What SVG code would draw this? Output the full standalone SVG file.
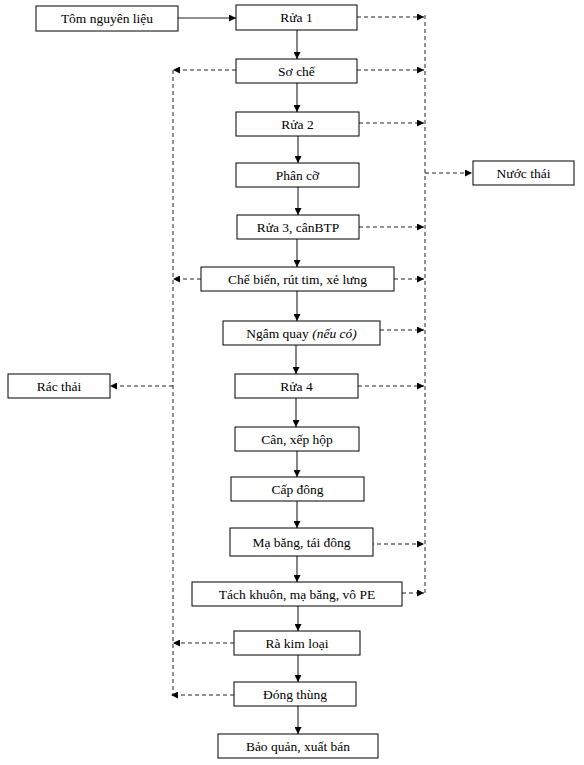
<svg xmlns="http://www.w3.org/2000/svg" width="584" height="765" viewBox="0 0 584 765">
<style>
  .box{fill:#fff;stroke:#000;stroke-width:1}
  .t{font-family:"Liberation Serif","Times New Roman",serif;font-size:13.5px;fill:#000;text-anchor:middle;dominant-baseline:central}
  .s{stroke:#222;stroke-width:1.1;fill:none}
  .d{stroke:#222;stroke-width:1;fill:none;stroke-dasharray:4 3}
</style>
<defs>
  <marker id="ah" viewBox="0 0 8 8" refX="8" refY="4" markerWidth="7" markerHeight="7" markerUnits="userSpaceOnUse" orient="auto">
    <path d="M0,0 L8,4 L0,8 z" fill="#000"/>
  </marker>
</defs>
<rect width="584" height="765" fill="#fff"/>
<g id="connectors">
  <line class="s" x1="178" y1="18" x2="236" y2="18" marker-end="url(#ah)"/>
  <line class="s" x1="297" y1="30" x2="297" y2="59" marker-end="url(#ah)"/>
  <line class="s" x1="297" y1="83" x2="297" y2="112" marker-end="url(#ah)"/>
  <line class="s" x1="298" y1="136" x2="298" y2="163" marker-end="url(#ah)"/>
  <line class="s" x1="298" y1="187" x2="298" y2="215" marker-end="url(#ah)"/>
  <line class="s" x1="297" y1="239" x2="297" y2="267" marker-end="url(#ah)"/>
  <line class="s" x1="297" y1="291" x2="297" y2="321" marker-end="url(#ah)"/>
  <line class="s" x1="296" y1="345" x2="296" y2="374" marker-end="url(#ah)"/>
  <line class="s" x1="296" y1="398" x2="296" y2="427" marker-end="url(#ah)"/>
  <line class="s" x1="297" y1="451" x2="297" y2="477" marker-end="url(#ah)"/>
  <line class="s" x1="297" y1="501" x2="297" y2="528" marker-end="url(#ah)"/>
  <line class="s" x1="297" y1="556" x2="297" y2="582" marker-end="url(#ah)"/>
  <line class="s" x1="298" y1="606" x2="298" y2="631" marker-end="url(#ah)"/>
  <line class="s" x1="298" y1="655" x2="298" y2="682" marker-end="url(#ah)"/>
  <line class="s" x1="298" y1="706" x2="298" y2="734" marker-end="url(#ah)"/>

  <line class="d" x1="357" y1="17" x2="424" y2="17" marker-end="url(#ah)"/>
  <line class="d" x1="357" y1="70" x2="424" y2="70" marker-end="url(#ah)"/>
  <line class="d" x1="359" y1="123" x2="424" y2="123" marker-end="url(#ah)"/>
  <line class="d" x1="359" y1="227" x2="424" y2="227" marker-end="url(#ah)"/>
  <line class="d" x1="394" y1="279" x2="424" y2="279" marker-end="url(#ah)"/>
  <line class="d" x1="380" y1="330" x2="424" y2="330" marker-end="url(#ah)"/>
  <line class="d" x1="358" y1="386" x2="424" y2="386" marker-end="url(#ah)"/>
  <line class="d" x1="363" y1="544" x2="424" y2="544" marker-end="url(#ah)"/>
  <line class="d" x1="402" y1="593" x2="424" y2="593" marker-end="url(#ah)"/>
  <line class="d" x1="425" y1="15" x2="425" y2="593"/>
  <line class="d" x1="425" y1="173" x2="472" y2="173" marker-end="url(#ah)"/>

  <line class="d" x1="236" y1="70" x2="173" y2="70" marker-end="url(#ah)"/>
  <line class="d" x1="201" y1="279" x2="173" y2="279" marker-end="url(#ah)"/>
  <line class="d" x1="234" y1="643" x2="173" y2="643" marker-end="url(#ah)"/>
  <line class="d" x1="234" y1="695" x2="171" y2="695" marker-end="url(#ah)"/>
  <line class="d" x1="173" y1="70" x2="173" y2="696"/>
  <line class="d" x1="173" y1="386" x2="110" y2="386" marker-end="url(#ah)"/>
</g>
<g id="tom"><rect class="box" x="36" y="6" width="142" height="25"/><text class="t" x="107" y="18.5">Tôm nguyên liệu</text></g>
<g id="rua1"><rect class="box" x="236" y="5" width="121" height="25"/><text class="t" x="296.5" y="17.5">Rửa 1</text></g>
<g id="soche"><rect class="box" x="236" y="59" width="121" height="24"/><text class="t" x="296.5" y="71">Sơ chế</text></g>
<g id="rua2"><rect class="box" x="236" y="112" width="123" height="24"/><text class="t" x="297.5" y="124">Rửa 2</text></g>
<g id="phanco"><rect class="box" x="236" y="163" width="123" height="24"/><text class="t" x="297.5" y="175">Phân cỡ</text></g>
<g id="nuocthai"><rect class="box" x="473" y="161" width="101" height="24"/><text class="t" x="523.5" y="173">Nước thái</text></g>
<g id="rua3"><rect class="box" x="237" y="215" width="122" height="24"/><text class="t" x="298" y="227">Rửa 3, cânBTP</text></g>
<g id="chebien"><rect class="box" x="201" y="267" width="193" height="24"/><text class="t" x="297.5" y="279">Chế biến, rút tim, xẻ lưng</text></g>
<g id="ngamquay"><rect class="box" x="223" y="321" width="157" height="24"/><text class="t" x="301.5" y="333">Ngâm quay <tspan font-style="italic">(nếu có)</tspan></text></g>
<g id="racthai"><rect class="box" x="8" y="374" width="102" height="24"/><text class="t" x="59" y="386">Rác thải</text></g>
<g id="rua4"><rect class="box" x="235" y="374" width="123" height="24"/><text class="t" x="296.5" y="386">Rửa 4</text></g>
<g id="can"><rect class="box" x="235" y="427" width="124" height="24"/><text class="t" x="297" y="439">Cân, xếp hộp</text></g>
<g id="capdong"><rect class="box" x="231" y="477" width="133" height="24"/><text class="t" x="297.5" y="489">Cấp đông</text></g>
<g id="mabang"><rect class="box" x="230" y="528" width="143" height="28"/><text class="t" x="301.5" y="542">Mạ băng, tái đông</text></g>
<g id="tachkhuon"><rect class="box" x="192" y="582" width="210" height="24"/><text class="t" x="297" y="594">Tách khuôn, mạ băng, vô PE</text></g>
<g id="rakimloai"><rect class="box" x="234" y="631" width="126" height="24"/><text class="t" x="297" y="643">Rà kim loại</text></g>
<g id="dongthung"><rect class="box" x="234" y="682" width="122" height="24"/><text class="t" x="295" y="694">Đóng thùng</text></g>
<g id="baoquan"><rect class="box" x="218" y="734" width="160" height="24"/><text class="t" x="298" y="746">Bảo quản, xuất bán</text></g>
</svg>
